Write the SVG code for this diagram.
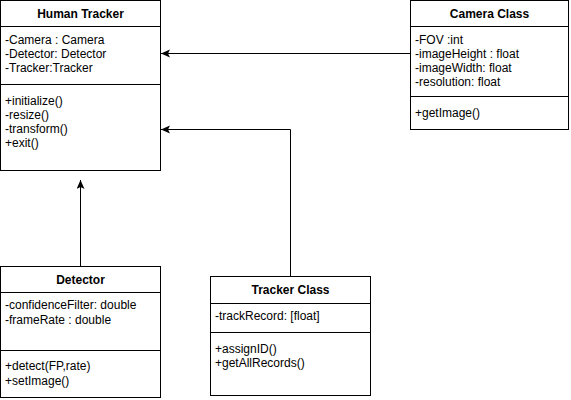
<svg xmlns="http://www.w3.org/2000/svg" width="571" height="400" viewBox="0 0 571 400">
<style>
.box{fill:#fff;stroke:#000;stroke-width:1}
.ln{stroke:#000;stroke-width:1;fill:none}
.t{font-family:"Liberation Sans",Arial,sans-serif;font-size:12px;fill:#000}
.h{font-family:"Liberation Sans",Arial,sans-serif;font-size:12px;font-weight:bold;fill:#000;text-anchor:middle}
</style>
<defs>
<marker id="arr" markerWidth="10" markerHeight="10" refX="9" refY="4" orient="auto" markerUnits="userSpaceOnUse">
<path d="M0,0 L9,4 L0,8 L2,4 Z" fill="#000"/>
</marker>
</defs>
<rect width="571" height="400" fill="#fff"/>
<g id="connectors">
<path class="ln" d="M410.5,53.5 L161,53.5" marker-end="url(#arr)"/>
<path class="ln" d="M290.5,276 L290.5,129.5 L161,129.5" marker-end="url(#arr)"/>
<path class="ln" d="M80.5,266 L80.5,180" marker-end="url(#arr)"/>
</g>
<g id="human-tracker">
<rect class="box" x="0.5" y="0.5" width="160" height="170"/>
<line class="ln" x1="0.5" y1="26.5" x2="160.5" y2="26.5"/>
<line class="ln" x1="0.5" y1="84.5" x2="160.5" y2="84.5"/>
<text class="h" x="80.5" y="18">Human Tracker</text>
<text class="t" x="5" y="44">-Camera : Camera</text>
<text class="t" x="5" y="58">-Detector: Detector</text>
<text class="t" x="5" y="72">-Tracker:Tracker</text>
<text class="t" x="5" y="105">+initialize()</text>
<text class="t" x="5" y="119">-resize()</text>
<text class="t" x="5" y="133">-transform()</text>
<text class="t" x="5" y="147">+exit()</text>
</g>
<g id="camera-class">
<rect class="box" x="410.5" y="0.5" width="158" height="129"/>
<line class="ln" x1="410.5" y1="26.5" x2="568.5" y2="26.5"/>
<line class="ln" x1="410.5" y1="96.5" x2="568.5" y2="96.5"/>
<text class="h" x="489.5" y="18">Camera Class</text>
<text class="t" x="415" y="44">-FOV :int</text>
<text class="t" x="415" y="58">-imageHeight : float</text>
<text class="t" x="415" y="72">-imageWidth: float</text>
<text class="t" x="415" y="86">-resolution: float</text>
<text class="t" x="415" y="117">+getImage()</text>
</g>
<g id="detector">
<rect class="box" x="0.5" y="266.5" width="160" height="131"/>
<line class="ln" x1="0.5" y1="292.5" x2="160.5" y2="292.5"/>
<line class="ln" x1="0.5" y1="350.5" x2="160.5" y2="350.5"/>
<text class="h" x="80.5" y="284">Detector</text>
<text class="t" x="5" y="309">-confidenceFilter: double</text>
<text class="t" x="5" y="324">-frameRate : double</text>
<text class="t" x="5" y="370">+detect(FP,rate)</text>
<text class="t" x="5" y="385">+setImage()</text>
</g>
<g id="tracker-class">
<rect class="box" x="210.5" y="276.5" width="160" height="119"/>
<line class="ln" x1="210.5" y1="303.5" x2="370.5" y2="303.5"/>
<line class="ln" x1="210.5" y1="332.5" x2="370.5" y2="332.5"/>
<text class="h" x="290.5" y="294">Tracker Class</text>
<text class="t" x="215" y="320">-trackRecord: [float]</text>
<text class="t" x="215" y="353">+assignID()</text>
<text class="t" x="215" y="367">+getAllRecords()</text>
</g>
</svg>
